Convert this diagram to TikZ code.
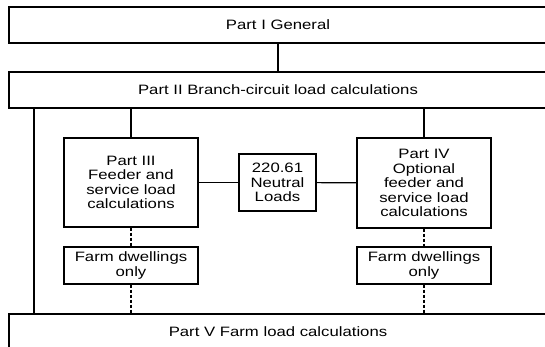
\documentclass[tikz,border=0pt]{standalone}
\usepackage{fontspec}
\setmainfont{Liberation Sans}[FakeStretch=1.23]
\usetikzlibrary{positioning}

\tikzset{
  partbox/.style={draw, line width=1.4pt, align=center, inner sep=2pt,
    font=\fontsize{13.6}{14.5}\selectfont},
  widebox/.style={partbox, minimum width=538pt, minimum height=36pt},
  link/.style={line width=1.2pt},
  dashlink/.style={line width=1.2pt, dash pattern=on 3pt off 2pt}
}

\begin{document}
\begin{tikzpicture}[x=1pt, y=-1pt]
    \useasboundingbox (0,0) rectangle (545,347);

    % Wide parts
    \node[widebox] (partI) at (278,25) {Part I General};
    \node[widebox] (partII) at (278,90) {Part II Branch-circuit load calculations};
    \node[widebox] (partV) at (278,332) {Part V Farm load calculations};

    % Middle row
    \node[partbox, minimum width=134pt, minimum height=89pt] (partIII) at (131,182.5)
      {Part III\\Feeder and\\service load\\calculations};
    \node[partbox, minimum width=77pt, minimum height=57pt] (neutral) at (277.5,182.5)
      {220.61\\Neutral\\Loads};
    \node[partbox, minimum width=134pt, minimum height=90pt] (partIV) at (424,183)
      {Part IV\\Optional\\feeder and\\service load\\calculations};

    % Farm dwellings
    \node[partbox, minimum width=134pt, minimum height=37pt] (farmL) at (131,265.5)
      {Farm dwellings\\only};
    \node[partbox, minimum width=134pt, minimum height=37pt] (farmR) at (424,265.5)
      {Farm dwellings\\only};

    % Connectors
    \coordinate (side) at (34,0);
    \draw[link] (partI) -- (partII);
    \draw[link] (partII.south -| partIII.north) -- (partIII.north);
    \draw[link] (partII.south -| partIV.north) -- (partIV.north);
    \draw[link] (partII.south -| side) -- (partV.north -| side);
    \draw[link] (partIII) -- (neutral);
    \draw[link] (neutral) -- (partIV);

    % Dashed links
    \draw[dashlink] (partIII) -- (farmL);
    \draw[dashlink] (farmL.south) -- (partV.north -| farmL.south);
    \draw[dashlink] (partIV) -- (farmR);
    \draw[dashlink] (farmR.south) -- (partV.north -| farmR.south);
\end{tikzpicture}
\end{document}
